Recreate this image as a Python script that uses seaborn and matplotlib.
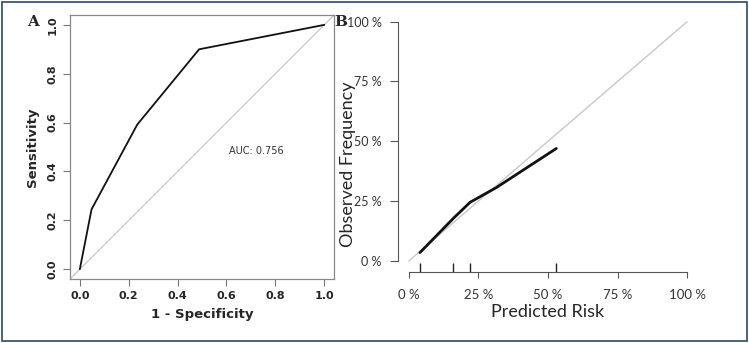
import numpy as np
import pandas as pd
import matplotlib
matplotlib.use("Agg")
import matplotlib.pyplot as plt
import seaborn as sns

# ==========================
# data
# ==========================
roc_fpr = [0.0, 0.048, 0.235, 0.488, 1.0]
roc_tpr = [0.0, 0.245, 0.592, 0.900, 1.0]
auc_text = "AUC: 0.756"

cal_pred = [0.04, 0.16, 0.22, 0.315, 0.53]
cal_obs = [0.035, 0.178, 0.245, 0.307, 0.47]
rug_pred = [0.04, 0.16, 0.22, 0.53]

pct_ticks = [0, 0.25, 0.5, 0.75, 1.0]
pct_labels = ["0 %", "25 %", "50 %", "75 %", "100 %"]
roc_ticks = [0.0, 0.2, 0.4, 0.6, 0.8, 1.0]

sns.set_style("white")
plt.rcParams['font.family'] = ['DejaVu Sans']

fig = plt.figure(figsize=(7.49, 3.43), dpi=100)

# ==========================
# panel A: ROC
# ==========================
axA = fig.add_axes([0.0935, 0.1866, 0.3525, 0.7694])
# reference line across the whole box (abline style)
sns.lineplot(x=[-0.04, 1.04], y=[-0.04, 1.04], color="#c8c8c8", lw=0.9, ax=axA)
sns.lineplot(x=roc_fpr, y=roc_tpr, color="#111111", lw=1.3, ax=axA,
             sort=False, estimator=None)
axA.set_xlim(-0.04, 1.04)
axA.set_ylim(-0.04, 1.04)
axA.set_xticks(roc_ticks)
axA.set_yticks(roc_ticks)
axA.set_xticklabels([f"{t:.1f}" for t in roc_ticks], fontweight="bold", fontsize=8)
axA.set_yticklabels([f"{t:.1f}" for t in roc_ticks], fontweight="bold", fontsize=8,
                    rotation=90, va="center")
axA.tick_params(axis="both", direction="out", length=5, width=0.8, color="#777777",
                bottom=True, left=True, pad=4)
for s in axA.spines.values():
    s.set_color("#888888")
    s.set_linewidth(0.9)
axA.set_xlabel("1 - Specificity", fontweight="bold", fontsize=9.5)
axA.set_ylabel("Sensitivity", fontweight="bold", fontsize=9.5)
axA.xaxis.set_label_coords(0.5, -0.11)
axA.yaxis.set_label_coords(-0.118, 0.5)
axA.text(0.72, 0.485, auc_text, fontsize=7, color="#333333", ha="center", va="center")

# ==========================
# panel B: calibration
# ==========================
axB = fig.add_axes([0.531, 0.2079, 0.4012, 0.7568])
sns.lineplot(x=[0, 1], y=[0, 1], color="#c8c8c8", lw=1.0, ax=axB)
sns.lineplot(x=cal_pred, y=cal_obs, color="#111111", lw=2.0, ax=axB,
             sort=False, estimator=None)
sns.rugplot(x=rug_pred, height=0.032, color="#222222", lw=1.0, ax=axB)
axB.set_xlim(-0.04, 1.04)
axB.set_ylim(-0.045, 1.04)
axB.set_xticks(pct_ticks)
axB.set_yticks(pct_ticks)
axB.set_xticklabels(pct_labels, fontsize=9.5, color="#333333", family="Lato")
axB.set_yticklabels(pct_labels, fontsize=9, color="#333333", family="Lato")
axB.tick_params(axis="x", direction="out", length=4.5, width=0.8, color="#555555",
                bottom=True, pad=8)
axB.tick_params(axis="y", direction="out", length=5.5, width=0.8, color="#555555",
                left=True, pad=6)
axB.spines["top"].set_visible(False)
axB.spines["right"].set_visible(False)
axB.spines["left"].set_bounds(0, 1)
axB.spines["bottom"].set_bounds(0, 1)
for s in ["left", "bottom"]:
    axB.spines[s].set_color("#555555")
    axB.spines[s].set_linewidth(0.8)
axB.set_xlabel("Predicted Risk", fontsize=13, family="Lato", labelpad=2)
axB.set_ylabel("Observed Frequency", fontsize=13, family="Lato")
axB.yaxis.set_label_coords(-0.14, 0.415)

# panel letters
fig.text(0.044, 0.935, "A", fontsize=11, fontweight="bold", family="DejaVu Serif",
         ha="center", va="center")
fig.text(0.455, 0.935, "B", fontsize=11, fontweight="bold", family="DejaVu Serif",
         ha="center", va="center")

# outer frame
fig.patches.append(plt.Rectangle((0.003, 0.005), 0.994, 0.99, transform=fig.transFigure,
                                 fill=False, edgecolor="#2c4a6a", lw=1.2))

plt.savefig("out.png", dpi=100)
